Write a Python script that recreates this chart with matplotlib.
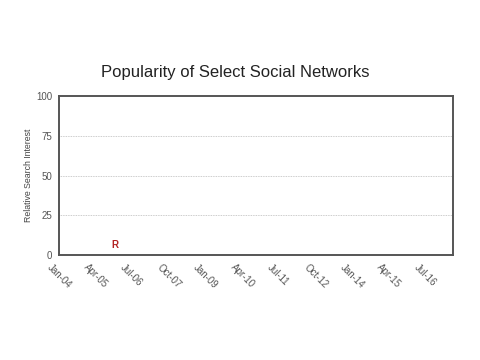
import matplotlib
matplotlib.use("Agg")
import matplotlib.pyplot as plt
import matplotlib.dates as mdates
import matplotlib.transforms as mtrans
import datetime as dt

tick_labels = ["Jan-04", "Apr-05", "Jul-06", "Oct-07", "Jan-09", "Apr-10",
               "Jul-11", "Oct-12", "Jan-14", "Apr-15", "Jul-16"]
tick_dates = [dt.date(2004, 1, 1), dt.date(2005, 4, 1), dt.date(2006, 7, 1),
              dt.date(2007, 10, 1), dt.date(2009, 1, 1), dt.date(2010, 4, 1),
              dt.date(2011, 7, 1), dt.date(2012, 10, 1), dt.date(2014, 1, 1),
              dt.date(2015, 4, 1), dt.date(2016, 7, 1)]
y_ticks = [0, 25, 50, 75, 100]
marker_labels = ["R"]
marker_dates = [dt.date(2005, 12, 1)]
marker_values = [6]

plt.rcParams['font.family'] = ['Liberation Sans', 'DejaVu Sans']
fig = plt.figure(figsize=(4.8, 3.6), dpi=100)
fig.patch.set_facecolor('white')
ax = fig.add_axes([0.123, 0.292, 0.821, 0.441])

ax.set_xlim(mdates.date2num(dt.date(2004, 1, 1)), mdates.date2num(dt.date(2017, 6, 1)))
ax.set_ylim(0, 100)
ax.set_xticks([mdates.date2num(d) for d in tick_dates])
ax.set_xticklabels([])
trans = mtrans.blended_transform_factory(ax.transData, ax.transAxes) + \
    mtrans.ScaledTranslation(-7 / 100, -7 / 100, fig.dpi_scale_trans)
for d, lab in zip(tick_dates, tick_labels):
    ax.text(mdates.date2num(d), 0, lab, transform=trans, rotation=-45,
            ha='left', va='top', rotation_mode='anchor', fontsize=7,
            color='#555555', clip_on=False)
ax.set_yticks(y_ticks)
ax.set_yticklabels([str(v) for v in y_ticks], fontsize=7, color='#555555')
ax.tick_params(length=0, pad=5)
for y in y_ticks[1:-1]:
    ax.axhline(y, color='#bbbbbb', lw=0.6, ls=(0, (1, 1)))
for s in ax.spines.values():
    s.set_color('#555555')
    s.set_linewidth(1.4)

for lab, d, v in zip(marker_labels, marker_dates, marker_values):
    ax.text(mdates.date2num(d), v, lab, color='#b22222', fontsize=7,
            fontweight='bold', ha='center', va='center')

ax.set_ylabel("Relative Search Interest", fontsize=6.3, color='#444444', labelpad=2)
fig.text(0.49, 0.80, "Popularity of Select Social Networks", ha='center',
         va='center', fontsize=12, color='#222222')

fig.savefig("out.png", dpi=100)
